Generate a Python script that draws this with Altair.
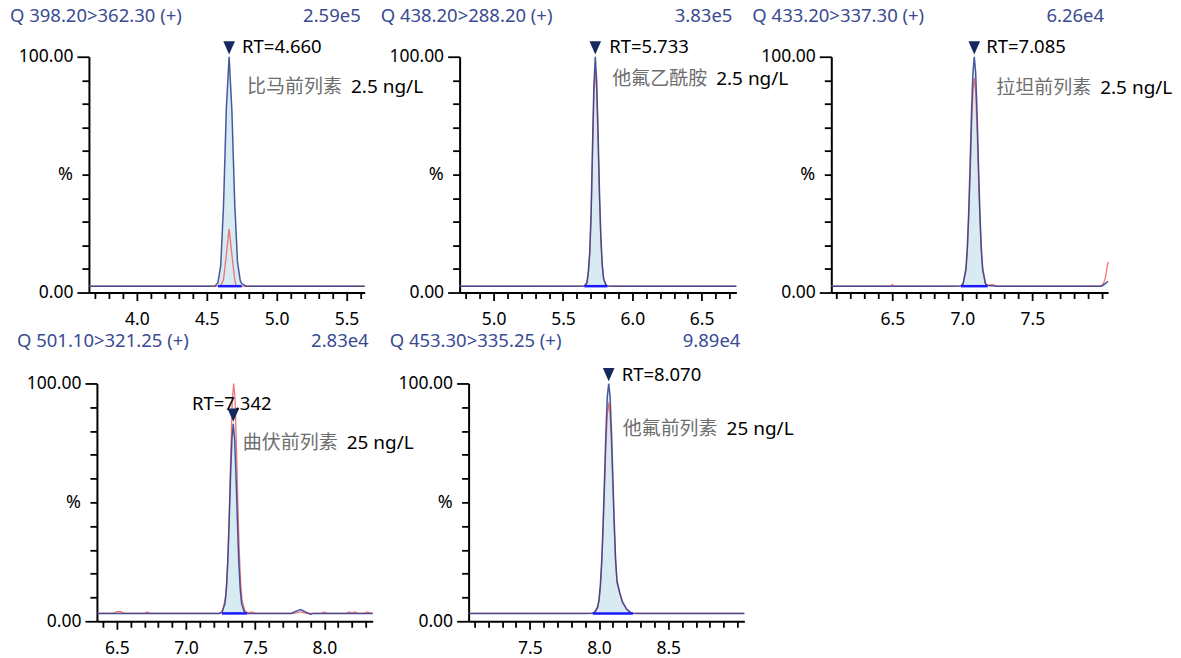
import math
import altair as alt
import pandas as pd

# ---------------- data ----------------
titles = ["Q 398.20>362.30 (+)", "Q 438.20>288.20 (+)", "Q 433.20>337.30 (+)",
          "Q 501.10>321.25 (+)", "Q 453.30>335.25 (+)"]
intensities = ["2.59e5", "3.83e5", "6.26e4", "2.83e4", "9.89e4"]
compounds = ["比马前列素", "他氟乙酰胺", "拉坦前列素", "曲伏前列素", "他氟前列素"]
concs = ["2.5 ng/L", "2.5 ng/L", "2.5 ng/L", "25 ng/L", "25 ng/L"]
rts = [4.660, 5.733, 7.085, 7.342, 8.070]
rt_labels = ["RT=4.660", "RT=5.733", "RT=7.085", "RT=7.342", "RT=8.070"]
apex = [100, 100, 100, 83, 100]

x_domains = [[3.657, 5.63], [4.755, 6.75], [6.064, 8.04], [6.356, 8.35], [7.058, 9.05]]
x_labels = [[4.0, 4.5, 5.0, 5.5], [5.0, 5.5, 6.0, 6.5], [6.5, 7.0, 7.5],
            [6.5, 7.0, 7.5, 8.0], [7.5, 8.0, 8.5]]

int_start = [4.58, 5.655, 6.99, 7.26, 7.955]
int_end = [4.75, 5.82, 7.18, 7.44, 8.245]
int_base = [2.7, 2.7, 2.7, 3.3, 3.3]

blue_t1 = [3.657, 4.50, 4.56, 4.58, 4.60, 4.62, 4.64, 4.66, 4.68, 4.70, 4.72, 4.74, 4.75, 4.78, 5.63]
blue_v1 = [2.7, 2.7, 2.8, 4.2, 11.5, 37, 78, 100, 77, 38, 13, 5, 3.8, 2.7, 2.7]
red_t1 = [3.657, 4.59, 4.60, 4.62, 4.64, 4.66, 4.68, 4.70, 4.71, 4.73, 5.63]
red_v1 = [2.7, 2.7, 3.0, 5.5, 16, 27, 16, 5.5, 3.0, 2.7, 2.7]

blue_t2 = [4.755, 5.60, 5.655, 5.673, 5.683, 5.693, 5.703, 5.713, 5.723, 5.733, 5.743, 5.753,
           5.763, 5.773, 5.783, 5.793, 5.808, 5.82, 5.88, 6.75]
blue_v2 = [2.7, 2.7, 2.8, 4.2, 9, 17, 34, 62, 88, 100, 90, 68, 43, 24, 12, 6, 3.5, 2.8, 2.7, 2.7]
red_t2 = [4.755, 5.655, 5.673, 5.683, 5.693, 5.703, 5.713, 5.723, 5.733, 5.743, 5.753, 5.763,
          5.773, 5.783, 5.793, 5.808, 5.82, 5.84, 6.75]
red_v2 = [2.7, 2.8, 4.0, 8, 16, 32, 58, 84, 94, 86, 64, 40, 22, 11, 5.5, 3.3, 2.8, 2.7, 2.7]

blue_t3 = [6.064, 6.50, 6.90, 6.99, 7.005, 7.025, 7.035, 7.045, 7.055, 7.065, 7.075, 7.085, 7.095,
           7.105, 7.115, 7.125, 7.135, 7.145, 7.165, 7.18, 7.25, 7.98, 8.00, 8.02, 8.04]
blue_v3 = [2.7, 2.7, 2.7, 2.8, 3.8, 10, 19, 34, 54, 76, 93, 100, 93, 76, 54, 34, 19, 10, 3.8, 3.0,
           2.7, 2.7, 2.9, 3.8, 4.7]
red_t3 = [6.064, 6.49, 6.50, 6.51, 6.99, 7.005, 7.025, 7.035, 7.045, 7.055, 7.065, 7.075, 7.085,
          7.095, 7.105, 7.115, 7.125, 7.135, 7.145, 7.165, 7.18, 7.20, 7.215, 7.24, 7.99, 8.005,
          8.02, 8.03, 8.04]
red_v3 = [2.7, 2.7, 3.4, 2.7, 2.8, 3.6, 9, 17, 31, 49, 69, 85, 91, 85, 69, 49, 31, 17, 9, 3.6, 3.0,
          3.2, 3.4, 2.7, 2.7, 3.5, 6, 9.5, 13]

blue_t4 = [6.356, 7.24, 7.26, 7.282, 7.292, 7.302, 7.312, 7.322, 7.332, 7.342, 7.352, 7.362, 7.372,
           7.382, 7.392, 7.402, 7.422, 7.44, 7.76, 7.80, 7.83, 7.86, 7.88, 7.90, 7.92, 8.35]
blue_v4 = [3.3, 3.3, 3.7, 7.4, 13.6, 24.8, 41.4, 60.7, 76.6, 83, 76.6, 60.7, 41.4, 24.8, 13.6, 7.4,
           3.8, 3.3, 3.3, 4.3, 4.9, 4.0, 3.5, 2.9, 3.3, 3.3]
red_t4 = [6.356, 6.48, 6.50, 6.53, 6.55, 6.70, 6.72, 6.74, 7.245, 7.265, 7.285, 7.295, 7.305, 7.315,
          7.325, 7.335, 7.345, 7.355, 7.365, 7.375, 7.385, 7.395, 7.405, 7.425, 7.45, 7.48, 7.50,
          7.78, 7.83, 7.87, 7.98, 8.00, 8.02, 8.16, 8.18, 8.20, 8.22, 8.24, 8.29, 8.31, 8.33, 8.35]
red_v4 = [3.3, 3.3, 4.0, 4.0, 3.3, 3.3, 3.9, 3.3, 3.3, 4.5, 9.7, 16.4, 29.7, 50, 73, 93, 100, 93, 73,
          50, 29.7, 16.4, 9, 4.5, 3.5, 3.9, 3.3, 3.3, 3.9, 3.3, 3.3, 3.9, 3.3, 3.3, 3.9, 3.4, 3.9,
          3.3, 3.3, 3.9, 3.5, 3.3]

blue_t5 = [7.058, 7.90, 7.955, 7.97, 7.99, 8.00, 8.01, 8.02, 8.03, 8.04, 8.05, 8.06, 8.07, 8.08, 8.09,
           8.10, 8.11, 8.12, 8.13, 8.15, 8.17, 8.20, 8.23, 8.245, 8.28, 9.05]
blue_v5 = [3.3, 3.3, 3.4, 3.9, 6, 9, 15.4, 26, 41.7, 60.7, 80, 94.6, 100, 94.6, 80, 60.7, 41.7, 26,
           17, 12, 8, 5, 3.6, 3.4, 3.3, 3.3]
red_t5 = [7.058, 7.955, 7.97, 7.99, 8.00, 8.01, 8.02, 8.03, 8.04, 8.05, 8.06, 8.07, 8.08, 8.09, 8.10,
          8.11, 8.12, 8.13, 8.15, 8.17, 8.20, 8.23, 8.245, 8.27, 9.05]
red_v5 = [3.3, 3.4, 3.8, 5.6, 8.5, 14.5, 24.5, 39, 56, 74, 87, 92, 87, 74, 56, 39, 24.5, 16, 11.5, 8,
          5, 3.6, 3.4, 3.3, 3.3]

blue_ts = [blue_t1, blue_t2, blue_t3, blue_t4, blue_t5]
blue_vs = [blue_v1, blue_v2, blue_v3, blue_v4, blue_v5]
red_ts = [red_t1, red_t2, red_t3, red_t4, red_t5]
red_vs = [red_v1, red_v2, red_v3, red_v4, red_v5]

# ---------------- layout / style ----------------
FONT = "Noto Sans"
CJK = "Noto Sans CJK SC"
NAVY = "#2c3c8c"
MARK = "#16295e"
RED = "#ee6666"
FILL = "#d8ebf3"
INTEG = "#1a1aff"
HEAD = "#3a4b91"
GRAY = "#6e6e6e"

widths = [276, 277, 277, 276, 276]
heights = [236, 236, 236, 238, 238]
rt_dx = [13, 14, 12, -1.5, 13]
rt_dy = [-10, -10, -10, -20, -8]
rt_align = ["left", "left", "left", "center", "left"]
ann_dx = [18, 17, 22, 9.5, 14]
ann_dy = [30, 22, 31, 19.5, 46]
title_dx = [-79, -79, -79, -80, -79]
title_dy = [-41, -41, -41, -42.5, -42.5]
conc_gap = 104
TRI = "M-0.44,-1.17 L0.44,-1.17 L0,-0.17 Z"


def make_panel(i):
    dom = x_domains[i]
    w, h = widths[i], heights[i]
    lo = math.ceil(dom[0] * 10 - 1e-9) / 10
    n = int((dom[1] - lo) / 0.1 + 1e-6) + 1
    ticks = [round(lo + 0.1 * k, 1) for k in range(n)]
    lab_test = " || ".join(f"abs(datum.value - {v}) < 0.001" for v in x_labels[i])
    x_axis = alt.Axis(
        values=ticks, title=None,
        labelExpr=f"({lab_test}) ? format(datum.value, '.1f') : ''",
        tickSize={"condition": {"test": lab_test, "value": 8}, "value": 6},
        labelPadding=10, labelOverlap=False, labelFlush=False, labelBound=False,
    )
    y_test = "datum.value == 0 || datum.value == 100"
    y_axis = alt.Axis(
        values=list(range(0, 101, 10)), title="%",
        labelExpr="datum.value == 0 ? '0.00' : datum.value == 100 ? '100.00' : ''",
        tickSize={"condition": {"test": y_test, "value": 12}, "value": 7},
        labelPadding=4, labelOverlap=False,
        titleAngle=0, titleX=-24, titleY=h / 2, titleAlign="center", titleBaseline="middle",
    )
    xs = alt.Scale(domain=dom, nice=False, zero=False)
    ys = alt.Scale(domain=[0, 100], nice=False)
    X = lambda f: alt.X(f, scale=xs, axis=x_axis)
    Y = lambda f: alt.Y(f, scale=ys, axis=y_axis)

    blue = pd.DataFrame({"t": blue_ts[i], "v": blue_vs[i]})
    red = pd.DataFrame({"t": red_ts[i], "v": red_vs[i]})
    fill = blue[(blue.t >= int_start[i] - 1e-9) & (blue.t <= int_end[i] + 1e-9)].copy()
    fill["b"] = int_base[i]
    integ = pd.DataFrame({"t0": [int_start[i]], "t1": [int_end[i]], "b": [int_base[i]]})
    info = pd.DataFrame({"rt": [rts[i]], "ap": [apex[i]], "rtl": [rt_labels[i]],
                         "cmp": [compounds[i]], "conc": [concs[i]],
                         "title": [titles[i]], "inten": [intensities[i]]})

    area = alt.Chart(fill).mark_area(color=FILL, opacity=1).encode(
        x=X("t:Q"), y=Y("v:Q"), y2="b:Q")
    red_line = alt.Chart(red).mark_line(color=RED, strokeWidth=1.3, opacity=0.9).encode(
        x=X("t:Q"), y=Y("v:Q"))
    blue_line = alt.Chart(blue).mark_line(color=NAVY, strokeWidth=1.5, opacity=0.85).encode(
        x=X("t:Q"), y=Y("v:Q"))
    rule = alt.Chart(integ).mark_rule(color=INTEG, strokeWidth=2.5).encode(
        x=X("t0:Q"), x2="t1:Q", y=Y("b:Q"))
    tri = alt.Chart(info).mark_point(shape=TRI, filled=True, size=700, color=MARK, opacity=1).encode(
        x=X("rt:Q"), y=Y("ap:Q"))
    rt_txt = alt.Chart(info).mark_text(
        align=rt_align[i], baseline="middle", dx=rt_dx[i], dy=rt_dy[i],
        font=FONT, fontSize=18.5, color="black").encode(x=X("rt:Q"), y=Y("ap:Q"), text="rtl:N")
    cmp_txt = alt.Chart(info).mark_text(
        align="left", baseline="middle", dx=ann_dx[i], dy=ann_dy[i],
        font=CJK, fontSize=19, color=GRAY).encode(x=X("rt:Q"), y=Y("ap:Q"), text="cmp:N")
    conc_txt = alt.Chart(info).mark_text(
        align="left", baseline="middle", dx=ann_dx[i] + conc_gap, dy=ann_dy[i],
        font=FONT, fontSize=19, color="black").encode(x=X("rt:Q"), y=Y("ap:Q"), text="conc:N")
    head_l = alt.Chart(info).mark_text(
        align="left", baseline="middle", font=FONT, fontSize=18.5, color=HEAD).encode(
        x=alt.value(title_dx[i]), y=alt.value(title_dy[i]), text="title:N")
    head_r = alt.Chart(info).mark_text(
        align="right", baseline="middle", font=FONT, fontSize=18.5, color=HEAD).encode(
        x=alt.value(w - 4), y=alt.value(title_dy[i]), text="inten:N")
    layers = [area, red_line, blue_line, rule, tri, rt_txt, cmp_txt, conc_txt, head_l, head_r]
    return alt.layer(*layers).properties(width=w, height=h)


def spacer(w):
    return alt.Chart(pd.DataFrame({"a": [0]})).mark_point(opacity=0, size=1).encode(
        x=alt.value(0), y=alt.value(0)).properties(width=w, height=1)


top = alt.hconcat(spacer(1), make_panel(0), make_panel(1), make_panel(2),
                  spacing=95, bounds="flush")
bottom = alt.hconcat(spacer(8), make_panel(3), make_panel(4), spacing=96, bounds="flush")

chart = alt.vconcat(top, bottom, spacing=3).properties(
    padding={"left": -16, "top": -1.5, "right": 0, "bottom": 2}
).configure_view(stroke=None).configure_axis(
    domainColor="black", domainWidth=2, tickColor="black", tickWidth=1.8,
    labelFont=FONT, labelFontSize=17.5, labelColor="black", grid=False,
    labelOverlap=False, labelFlush=False, labelBound=False,
    titleFont=FONT, titleFontSize=18, titleFontWeight="normal", titleColor="black",
)

chart.save("out.html", embed_options={"renderer": "svg", "actions": False})
